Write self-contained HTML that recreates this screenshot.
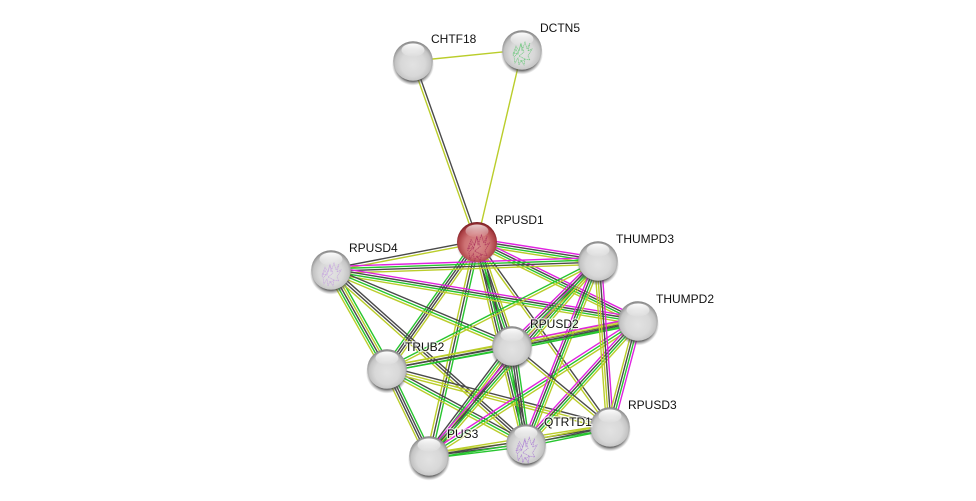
<!DOCTYPE html>
<html><head><meta charset="utf-8">
<style>
html,body{margin:0;padding:0;background:#fff;width:976px;height:501px;overflow:hidden}
svg{display:block}
text{font-family:"Liberation Sans",sans-serif;font-size:12px;fill:#111;paint-order:stroke;stroke:rgba(255,255,255,.7);stroke-width:2.5px}
</style></head><body>
<svg id="s" width="976" height="501" viewBox="0 0 976 501" xmlns="http://www.w3.org/2000/svg">
<defs>
<radialGradient id="gray" cx="50%" cy="56%" r="56%" fy="60%">
<stop offset="0" stop-color="#e2e2e2"/><stop offset=".55" stop-color="#d8d8d8"/><stop offset=".8" stop-color="#c4c4c4"/><stop offset=".95" stop-color="#929292"/><stop offset="1" stop-color="#7c7c7c"/>
</radialGradient>
<radialGradient id="red" cx="50%" cy="56%" r="56%" fy="60%">
<stop offset="0" stop-color="#d98d8d"/><stop offset=".55" stop-color="#cd7173"/><stop offset=".85" stop-color="#ab3f44"/><stop offset="1" stop-color="#74191e"/>
</radialGradient>
<linearGradient id="hl" x1="0" y1="0" x2="0" y2="1">
<stop offset="0" stop-color="#fff" stop-opacity="1"/><stop offset="1" stop-color="#fff" stop-opacity=".05"/>
</linearGradient>
<radialGradient id="sh"><stop offset=".78" stop-color="#3c3c3c" stop-opacity=".85"/><stop offset="1" stop-color="#777" stop-opacity="0"/></radialGradient>
<g id="n">
<circle cx="0" cy="3.5" r="21" fill="url(#sh)"/>
<circle r="19.8" fill="url(#gray)"/>
<ellipse cx="0" cy="-11" rx="11.5" ry="6.5" fill="url(#hl)"/>
</g>
<g id="nr">
<circle cx="0" cy="2" r="21" fill="url(#sh)" opacity=".5"/>
<circle r="20" fill="url(#red)"/>
<ellipse cx="0" cy="-11" rx="11.5" ry="6.5" fill="url(#hl)" opacity=".75"/>
</g>
<path id="p" fill="none" stroke-width=".6" stroke-dasharray="1.2 .5" d="M-9 7l3-7 2 5 3-11 1 8 3-9 2 7 3-6-2 8 4-2-4 7 2 4-5-1-1 6-3-5-2 5-1-7-3 5-1-6 4-4-5 1 3-8 3 5 2-7 3 8-5 4 6 3-4 3"/>
</defs>
<g id="edges"></g>
<use href="#n" x="413" y="61"/>
<use href="#n" x="522" y="50"/>
<use href="#n" x="598" y="261"/>
<use href="#n" x="638" y="321"/>
<use href="#n" x="512" y="346"/>
<use href="#n" x="331" y="270"/>
<use href="#n" x="387" y="369"/>
<use href="#n" x="429" y="456"/>
<use href="#n" x="526" y="444"/>
<use href="#n" x="610" y="427"/>
<use href="#nr" x="477" y="242"/>
<use href="#p" stroke="#a82a58" opacity=".85" transform="translate(478 243) scale(1.15)"/>
<use href="#p" stroke="#c39be0" opacity=".9" transform="translate(331 270)"/>
<use href="#p" stroke="#a878d4" opacity=".9" transform="translate(526 445) scale(1.1)"/>
<use href="#p" stroke="#58c46a" opacity=".9" transform="translate(522 49)"/>
<text x="431" y="43">CHTF18</text>
<text x="540" y="32">DCTN5</text>
<text x="495" y="224">RPUSD1</text>
<text x="616" y="243">THUMPD3</text>
<text x="656" y="303">THUMPD2</text>
<text x="530" y="328">RPUSD2</text>
<text x="349" y="252">RPUSD4</text>
<text x="405" y="351">TRUB2</text>
<text x="447" y="438">PUS3</text>
<text x="544" y="426">QTRTD1</text>
<text x="628" y="409">RPUSD3</text>
</svg>
<script>
var N={C:[413,61],D:[522,50],R:[477,242],T3:[598,261],T2:[638,321],R2:[512,346],R4:[331,270],TB:[387,369],P:[429,456],Q:[526,444],R3:[610,427]};
var col={y:"#bacd2a",k:"#4a4a4a",g:"#27c52f",m:"#e022e0"};
var E=[["C","D","y"],["D","R","y"],["C","R","ky"],
["R","R4","yk"],["R","T3","mkgy"],["R","T2","mkgy"],["R","R2","ykgk"],["R","TB","ykkg"],["R","P","gky"],["R","Q","kgky"],["R","R3","ky"],
["R4","T3","mgky"],["R4","T2","mkgy"],["R4","R2","kgy"],["R4","TB","gykgy"],["R4","Q","kky"],
["TB","T3","gy"],["TB","R2","ykg"],["TB","T2","ykg"],["TB","Q","kgy"],["TB","R3","kyy"],["TB","P","gkky"],
["P","R2","kgyk"],["P","T3","mkgy"],["P","T2","mgy"],["P","Q","ykg"],["P","R3","ykg"],
["Q","R2","gkkg"],["Q","T3","mkgy"],["Q","T2","mkgy"],["Q","R3","ykg"],
["R2","T3","mkgy"],["R2","T2","mykg"],["R2","R3","ky"],
["T3","R3","mkyy"],["T2","R3","mgky"]];
var g=document.getElementById("edges"),ns="http://www.w3.org/2000/svg";
E.forEach(function(e){
var a=N[e[0]],b=N[e[1]],dx=b[0]-a[0],dy=b[1]-a[1],L=Math.sqrt(dx*dx+dy*dy),nx=-dy/L,ny=dx/L,c=e[2],step=c.length>3?2.3:2.6;
for(var i=0;i<c.length;i++){
var o=(i-(c.length-1)/2)*step;
var l=document.createElementNS(ns,"line");
l.setAttribute("x1",a[0]+nx*o);l.setAttribute("y1",a[1]+ny*o);
l.setAttribute("x2",b[0]+nx*o);l.setAttribute("y2",b[1]+ny*o);
l.setAttribute("stroke",col[c[i]]);l.setAttribute("stroke-width","1.4");
g.appendChild(l);
}
});
</script>
</body></html>
